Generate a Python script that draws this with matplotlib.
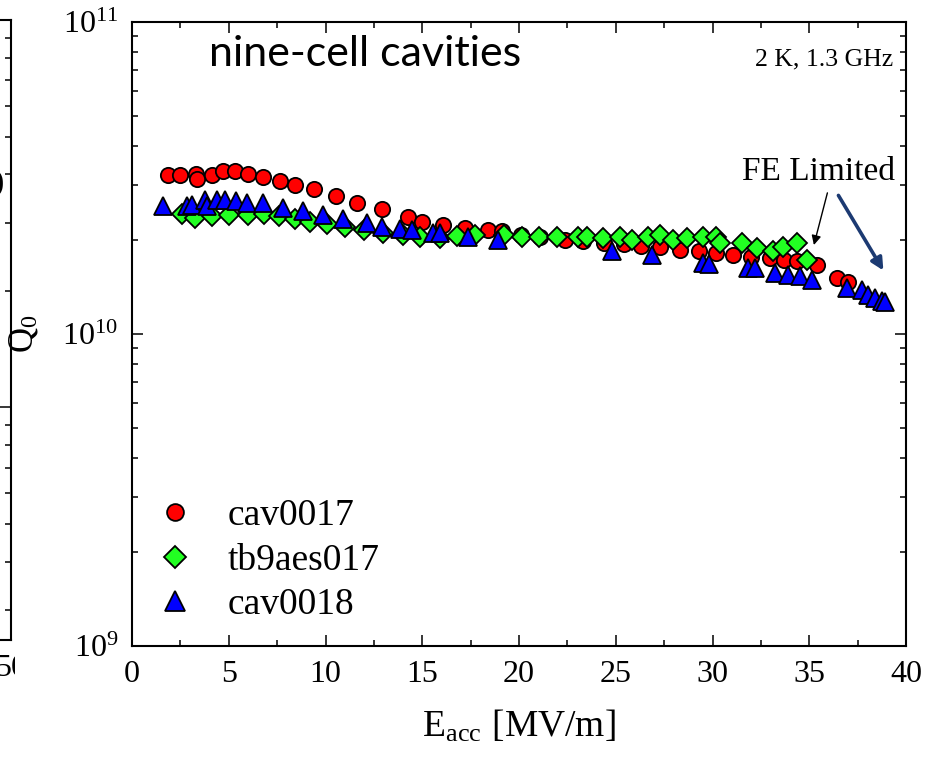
import matplotlib
matplotlib.use("Agg")
import matplotlib.pyplot as plt
import numpy as np
from matplotlib.ticker import MultipleLocator, LogLocator, NullFormatter, FixedLocator
from matplotlib.transforms import Bbox, TransformedBbox

plt.rcParams['font.family'] = ['Liberation Serif', 'DejaVu Serif']
plt.rcParams['mathtext.fontset'] = 'stix'

# cav0017 (red circles)
e_cav17 = [1.85, 2.48, 3.31, 3.38, 4.12, 4.72, 5.32, 6.01, 6.79, 7.65, 8.42, 9.41,
           10.52, 11.64, 12.90, 14.25, 14.97, 16.05, 17.21, 18.41, 19.11, 20.1,
           21.1, 22.38, 23.3, 24.4, 25.4, 26.3, 27.29, 28.32, 29.3, 30.2, 31.08,
           32.0, 32.97, 33.7, 34.35, 35.38, 36.42, 37.02]
q_cav17 = [3.24, 3.24, 3.26, 3.13, 3.24, 3.33, 3.33, 3.26, 3.19, 3.10, 3.01, 2.91,
           2.76, 2.62, 2.51, 2.37, 2.29, 2.24, 2.18, 2.15, 2.14, 2.08,
           2.04, 2.00, 1.98, 1.96, 1.94, 1.92, 1.90, 1.86, 1.84, 1.82, 1.79,
           1.77, 1.75, 1.73, 1.71, 1.66, 1.51, 1.47]

# tb9aes017 (green diamonds)
e_tb9 = [2.6, 3.26, 4.12, 5.0, 6.0, 6.8, 7.62, 8.4, 9.2, 10.1, 11.0, 12.0, 12.99,
         14.0, 14.9, 15.9, 16.8, 17.73, 19.2, 20.14, 21.05, 21.95, 23.07, 23.5,
         24.36, 25.2, 25.82, 26.68, 27.29, 27.97, 28.66, 29.52, 30.2, 30.39,
         31.51, 32.28, 33.14, 33.66, 34.35, 34.87]
q_tb9 = [2.42, 2.35, 2.38, 2.40, 2.40, 2.42, 2.38, 2.33, 2.29, 2.25, 2.21, 2.15, 2.10,
         2.07, 2.05, 2.03, 2.06, 2.08, 2.08, 2.05, 2.05, 2.05, 2.05, 2.05,
         2.03, 2.05, 2.00, 2.05, 2.08, 2.00, 2.03, 2.05, 2.04, 1.95,
         1.95, 1.88, 1.84, 1.90, 1.95, 1.73]

# cav0018 (blue triangles)
e_cav18 = [1.62, 2.83, 3.08, 3.77, 3.86, 4.38, 4.81, 5.37, 5.96, 6.79, 7.82, 8.86,
           9.89, 10.89, 12.13, 12.9, 13.85, 14.45, 15.54, 15.9, 17.38, 18.93,
           24.79, 26.86, 29.52, 29.8, 31.85, 32.2, 33.23, 33.92, 34.52, 35.13,
           36.93, 37.71, 38.05, 38.4, 38.74, 38.9]
q_cav18 = [2.57, 2.57, 2.60, 2.68, 2.57, 2.68, 2.69, 2.66, 2.63, 2.63, 2.53, 2.47,
           2.40, 2.33, 2.26, 2.21, 2.17, 2.15, 2.10, 2.10, 2.05, 2.00,
           1.84, 1.79, 1.69, 1.68, 1.63, 1.63, 1.57, 1.55, 1.53, 1.49,
           1.40, 1.38, 1.33, 1.30, 1.28, 1.27]

fig = plt.figure(figsize=(9.37, 7.58), dpi=100)

# neighbouring panel, only its right edge shows
ax0 = fig.add_axes([-0.6, 0.1557, 0.6117, 0.8179])
ax0.set_yscale('log')
ax0.set_ylim(10**8.4, 10**10)
ax0.set_xlim(0, 50)
ax0.xaxis.set_major_locator(FixedLocator([50]))
ax0.tick_params(which='both', direction='in', left=False, right=True,
                labelleft=False, bottom=False, labelsize=23, pad=10, width=1.1)
ax0.tick_params(which='major', length=8)
ax0.tick_params(which='minor', length=4.5)
for s in ax0.spines.values():
    s.set_linewidth(1.5)
clip = TransformedBbox(Bbox.from_extents(0, 0, 15 / 937, 1), fig.transFigure)
for lbl in ax0.get_xticklabels():
    lbl.set_clip_on(True)
    lbl.set_clip_box(clip)
fig.text(5 / 937, 1 - 183 / 758, "0)", ha='right', va='center', fontsize=22)

ax = fig.add_axes([0.1409, 0.1478, 0.8261, 0.8232])

ax.plot(e_cav17, np.array(q_cav17) * 1e10, 'o', ms=11, mfc='#ff0000', mec='black',
        mew=1.3, label='cav0017', zorder=3)
ax.plot(e_tb9, np.array(q_tb9) * 1e10, 'D', ms=10, mfc='#22ff22', mec='black',
        mew=1.3, label='tb9aes017', zorder=4)
ax.plot(e_cav18, np.array(q_cav18) * 1e10, '^', ms=12.5, mfc='#0000ff', mec='black',
        mew=1.3, label='cav0018', zorder=5)

ax.set_yscale('log')
ax.set_ylim(1e9, 1e11)
ax.set_xlim(0, 40)
ax.xaxis.set_major_locator(MultipleLocator(5))
ax.xaxis.set_minor_locator(MultipleLocator(2.5))
ax.yaxis.set_minor_locator(LogLocator(base=10, subs=np.arange(2, 10)))
ax.yaxis.set_minor_formatter(NullFormatter())
ax.tick_params(which='both', direction='in', top=True, right=True,
               labelsize=23, pad=10, width=1.1)
ax.tick_params(which='major', length=8)
ax.tick_params(which='minor', length=4.5)
for s in ax.spines.values():
    s.set_linewidth(1.5)

ax.set_xlabel(r'E$_{\mathregular{acc}}$ [MV/m]', fontsize=27, labelpad=14)
ax.set_ylabel(r'Q$_{\mathregular{0}}$', fontsize=25)
ax.yaxis.set_label_coords(-0.118, 0.5)

ax.text(0.1, 0.929, 'nine-cell cavities', transform=ax.transAxes,
        fontsize=31, family='Lato', va='baseline', ha='left')
ax.text(0.983, 0.931, '2 K, 1.3 GHz', transform=ax.transAxes,
        fontsize=18.5, va='baseline', ha='right')
ax.text(0.9858, 0.7468, 'FE Limited', transform=ax.transAxes,
        fontsize=24, va='baseline', ha='right')

ax.annotate('', xy=(35.2, 1.89e10), xytext=(35.97, 2.89e10),
            arrowprops=dict(arrowstyle='-|>', color='black', lw=1.0,
                            mutation_scale=14))
ax.annotate('', xy=(38.9, 1.57e10), xytext=(36.43, 2.83e10),
            arrowprops=dict(arrowstyle='-|>', color='#1c3a72', lw=2.6,
                            mutation_scale=18))

ax.legend(loc='upper left', bbox_to_anchor=(0.031, 0.236), frameon=False,
          fontsize=27, handlelength=1.0, handletextpad=0.9, labelspacing=0.27,
          borderpad=0, borderaxespad=0, markerscale=1.1)

fig.savefig('out.png', dpi=100)
